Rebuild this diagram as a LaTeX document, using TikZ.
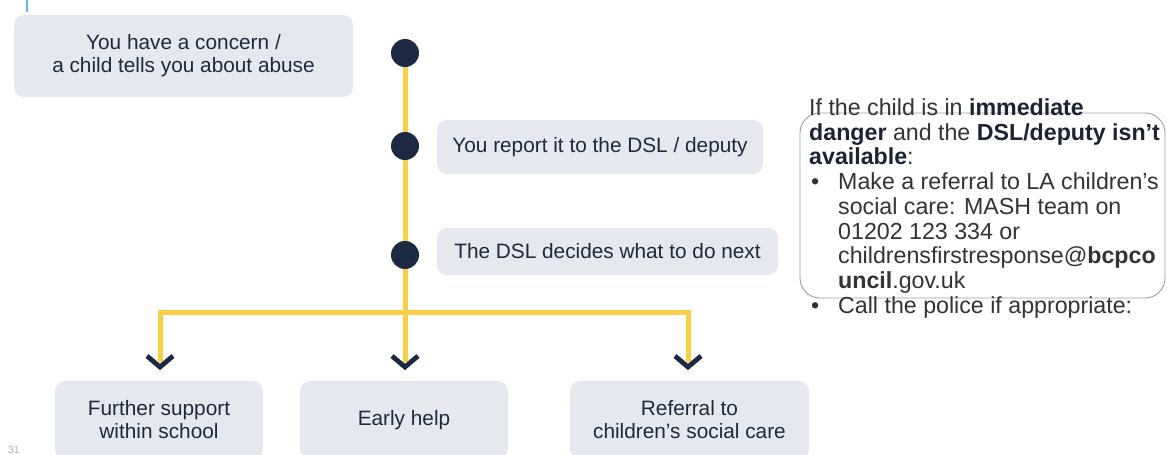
\documentclass[tikz,border=0pt]{standalone}
\usepackage{fontspec}
\setmainfont{Liberation Sans}
\definecolor{boxgray}{HTML}{E5E8EE}
\definecolor{txtnavy}{HTML}{1E2A3C}
\definecolor{navy}{HTML}{1B2A42}
\definecolor{gold}{HTML}{F8CF46}
\definecolor{skyblue}{HTML}{6DB6E3}
\definecolor{notegray}{HTML}{333333}
\definecolor{boldnavy}{HTML}{1C2333}
\begin{document}
\begin{tikzpicture}[x=1pt,y=-1pt,
  box/.style={fill=boxgray, rounded corners=10pt, inner sep=0pt, align=center, text=txtnavy, font=\fontsize{20.8}{23}\selectfont},
  dot/.style={circle, fill=navy, minimum size=28pt, inner sep=0pt},
  flow/.style={draw=gold, line width=5pt, line join=miter},
  chev/.style={draw=navy, line width=4.8pt, line join=miter}]
\useasboundingbox (0,0) rectangle (1167,455);
\clip (0,0) rectangle (1167,455);
\fill[white] (0,0) rectangle (1167,455);
% top-left blue line
\draw[skyblue, line width=2.5pt] (27,0) -- (27,12);
% coordinates
\coordinate (p1) at (405,53);
\coordinate (p2) at (405,146);
\coordinate (p3) at (405,255);
\coordinate (jl) at (160,312);
\coordinate (jr) at (688,312);
\coordinate (a1) at (160,367);
\coordinate (a2) at (405,367);
\coordinate (a3) at (688,367);
% yellow flow lines
\draw[flow] (p1) -- (405,362);
\draw[flow] (160,362) -- (jl) -- (jr) -- (688,362);
% boxes
\node[box, minimum width=339pt, minimum height=82pt] (b1) at (183.5,56) {You have a concern /\\a child tells you about abuse};
\node[box, minimum width=326pt, minimum height=54pt] (b2) at (600,147) {You report it to the DSL / deputy};
\node[box, minimum width=341pt, minimum height=47pt] (b3) at (607.5,251.5) {The DSL decides what to do next};
\node[box, minimum width=208pt, minimum height=78pt] (o1) at (159,420) {Further support\\within school};
\node[box, minimum width=208pt, minimum height=78pt] (o2) at (404,420) {Early help};
\node[box, minimum width=239pt, minimum height=78pt] (o3) at (689.5,420) {Referral to\\children’s social care};
% dots
\node[dot] (d1) at (p1) {};
\node[dot] (d2) at (p2) {};
\node[dot] (d3) at (p3) {};
% chevrons
\draw[chev] (a1) ++(-13,-11) -- (a1) -- ++(13,-11);
\draw[chev] (a2) ++(-13,-11) -- (a2) -- ++(13,-11);
\draw[chev] (a3) ++(-13,-11) -- (a3) -- ++(13,-11);
% note outline
\draw[gray!75, line width=0.9pt, rounded corners=20pt] (800,113) rectangle (1165,298);
% note text
\node[anchor=north west, inner sep=0pt, align=left, text=notegray, font=\fontsize{23.2}{24.75}\selectfont] (note) at (809,98.3) {%
If the child is in \textcolor{boldnavy}{\textbf{immediate}}\\
\textcolor{boldnavy}{\textbf{danger}} and the \textcolor{boldnavy}{\textbf{DSL/deputy isn’t}}\\
\textcolor{boldnavy}{\textbf{available}}:\\
\makebox[29pt][l]{\hspace*{2pt}•}Make a referral to LA children’s\\
\hspace*{29pt}social care: MASH team on\\
\hspace*{29pt}01202 123 334 or\\
\hspace*{29pt}childrensfirstresponse@\textbf{bcpco}\\
\hspace*{29pt}\textbf{uncil}.gov.uk\\
\makebox[29pt][l]{\hspace*{2pt}•}Call the police if appropriate:};
% page number
\node[text=gray!60, font=\fontsize{10.5}{12}\selectfont, inner sep=0pt] (pg) at (14,450) {31};
\end{tikzpicture}
\end{document}
